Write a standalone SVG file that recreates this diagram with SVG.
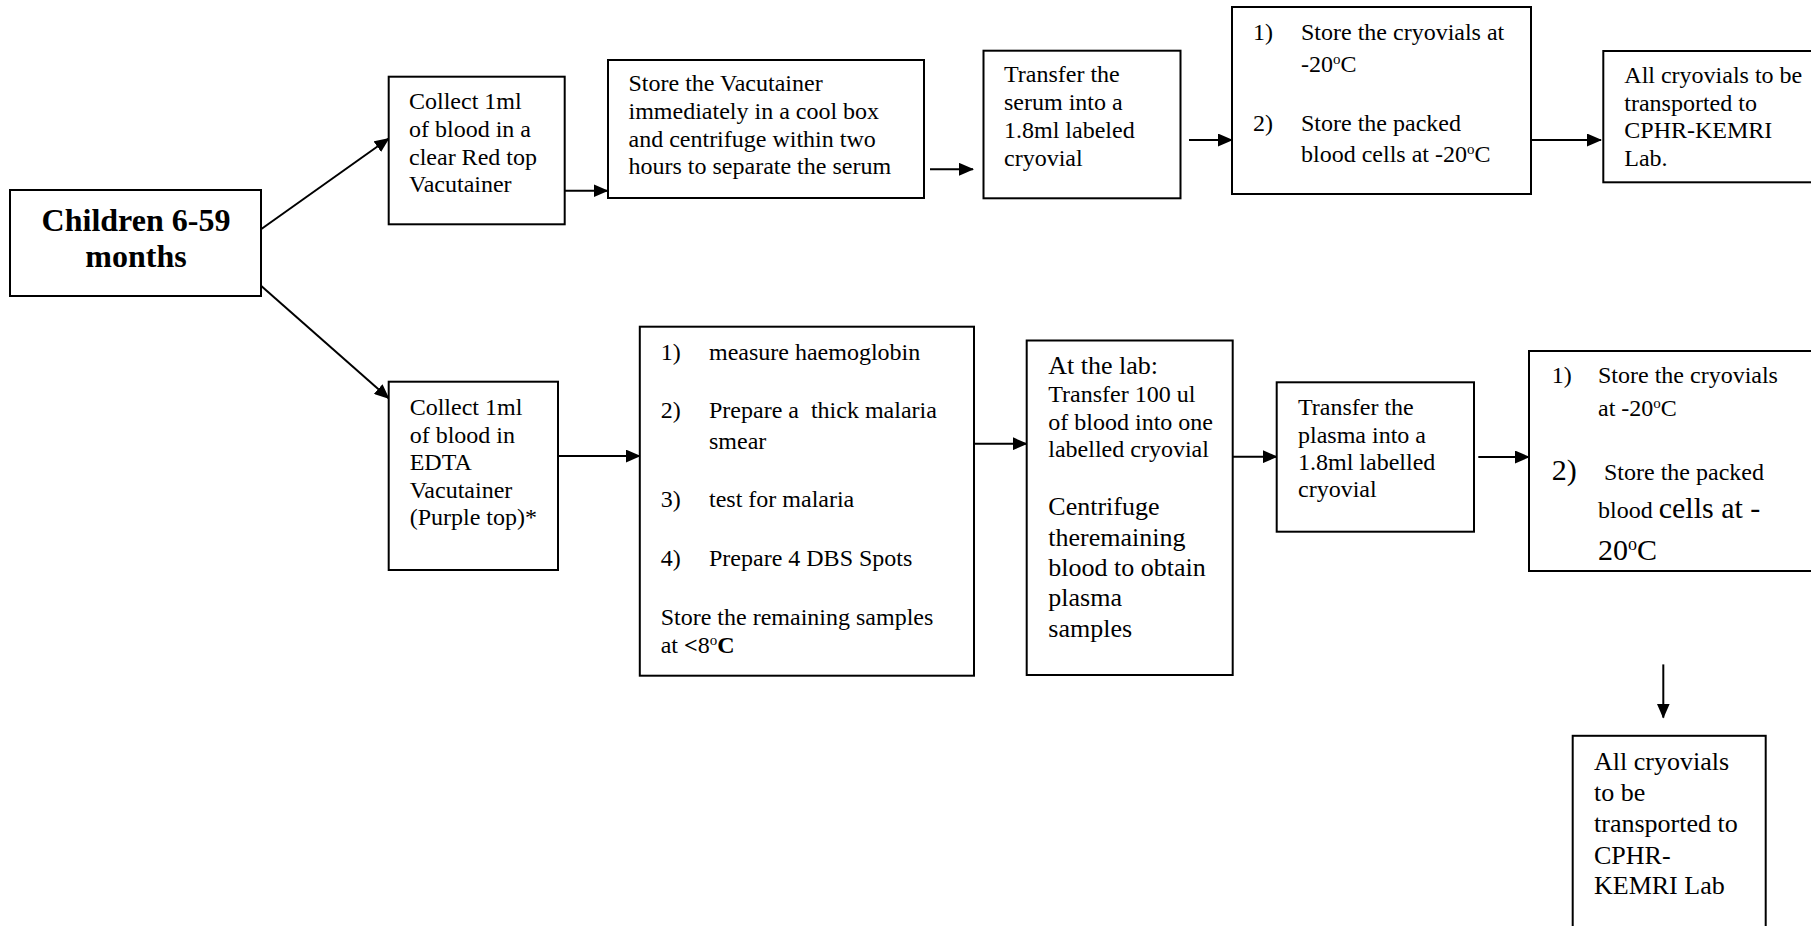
<svg xmlns="http://www.w3.org/2000/svg" width="1811" height="926" viewBox="0 0 1811 926">
<style>
.box{fill:#fff;stroke:#000;stroke-width:2}
text{font-family:"Liberation Serif","Times New Roman",serif;font-size:24px;fill:#000}
.title{font-size:32px;font-weight:bold}
.big{font-size:30px}
.m26{font-size:26px}
.sup{font-size:15px}
.sup2{font-size:18px}
.conn line{stroke:#000;stroke-width:2}
</style>
<defs>
<marker id="ah" markerUnits="userSpaceOnUse" markerWidth="16" markerHeight="13" refX="14" refY="6.5" orient="auto">
<path d="M0,0 L15,6.5 L0,13 Z" fill="#000"/>
</marker>
</defs>
<rect width="1811" height="926" fill="#fff"/>

<g class="conn">
<line x1="261" y1="229.3" x2="388.7" y2="138.5" marker-end="url(#ah)"/>
<line x1="261" y1="285.7" x2="388.7" y2="398.3" marker-end="url(#ah)"/>
<line x1="564.6" y1="190.7" x2="607.5" y2="190.7" marker-end="url(#ah)"/>
<line x1="930" y1="169.3" x2="973" y2="169.3" marker-end="url(#ah)"/>
<line x1="1189" y1="140" x2="1232" y2="140" marker-end="url(#ah)"/>
<line x1="1531" y1="140" x2="1601" y2="140" marker-end="url(#ah)"/>
<line x1="558" y1="456" x2="639.8" y2="456" marker-end="url(#ah)"/>
<line x1="974" y1="443.7" x2="1026.7" y2="443.7" marker-end="url(#ah)"/>
<line x1="1232.7" y1="456.7" x2="1276.7" y2="456.7" marker-end="url(#ah)"/>
<line x1="1478.3" y1="457" x2="1529" y2="457" marker-end="url(#ah)"/>
<line x1="1663.3" y1="664.4" x2="1663.3" y2="717.6" marker-end="url(#ah)"/>
</g>

<g id="children">
<rect class="box" x="10" y="190" width="251" height="106"/>
<text class="title" x="136" y="231" text-anchor="middle">Children 6-59</text>
<text class="title" x="136" y="267" text-anchor="middle">months</text>
</g>

<g id="collect1">
<rect class="box" x="388.7" y="76.7" width="176" height="147.6"/>
<text x="409" y="109.3">Collect 1ml</text>
<text x="409" y="137">of blood in a</text>
<text x="409" y="164.5">clear Red top</text>
<text x="409" y="192">Vacutainer</text>
</g>

<g id="storevac">
<rect class="box" x="608" y="60" width="316" height="138"/>
<text x="628.5" y="91">Store the Vacutainer</text>
<text x="628.5" y="119">immediately in a cool box</text>
<text x="628.5" y="146.7">and centrifuge within two</text>
<text x="628.5" y="174">hours to separate the serum</text>
</g>

<g id="transferserum">
<rect class="box" x="983.5" y="50.7" width="197" height="147.6"/>
<text x="1004" y="82.3">Transfer the</text>
<text x="1004" y="110">serum into a</text>
<text x="1004" y="137.7">1.8ml labeled</text>
<text x="1004" y="165.7">cryovial</text>
</g>

<g id="storecryo1">
<rect class="box" x="1232" y="7" width="299" height="187"/>
<text x="1253" y="40">1)</text>
<text x="1301" y="40">Store the cryovials at</text>
<text x="1301" y="71.7">-20<tspan class="sup" baseline-shift="super">o</tspan>C</text>
<text x="1253" y="130.7">2)</text>
<text x="1301" y="130.7">Store the packed</text>
<text x="1301" y="161.7">blood cells at -20<tspan class="sup" baseline-shift="super">o</tspan>C</text>
</g>

<g id="alltop">
<rect class="box" x="1603.3" y="51" width="240" height="131.3"/>
<text x="1624.3" y="82.7">All cryovials to be</text>
<text x="1624.3" y="110.7">transported to</text>
<text x="1624.3" y="137.7">CPHR-KEMRI</text>
<text x="1624.3" y="165.7">Lab.</text>
</g>

<g id="collect2">
<rect class="box" x="388.7" y="381.7" width="169.3" height="188.3"/>
<text x="409.7" y="415">Collect 1ml</text>
<text x="409.7" y="442.5">of blood in</text>
<text x="409.7" y="470">EDTA</text>
<text x="409.7" y="497.5">Vacutainer</text>
<text x="409.7" y="525">(Purple top)*</text>
</g>

<g id="haemo">
<rect class="box" x="639.8" y="326.7" width="334.2" height="349"/>
<text x="660.7" y="360">1)</text>
<text x="709" y="360">measure haemoglobin</text>
<text x="660.7" y="417.7">2)</text>
<text x="709" y="417.7" xml:space="preserve">Prepare a  thick malaria</text>
<text x="709" y="449.3">smear</text>
<text x="660.7" y="507.3">3)</text>
<text x="709" y="507.3">test for malaria</text>
<text x="660.7" y="566">4)</text>
<text x="709" y="566">Prepare 4 DBS Spots</text>
<text x="660.7" y="625">Store the remaining samples</text>
<text x="660.7" y="652.7">at <tspan font-weight="bold">&lt;</tspan>8<tspan class="sup" baseline-shift="super">o</tspan><tspan font-weight="bold">C</tspan></text>
</g>

<g id="atlab">
<rect class="box" x="1026.7" y="340.5" width="206" height="334.5"/>
<text class="m26" x="1048.3" y="374">At the lab:</text>
<text x="1048.3" y="401.7">Transfer 100 ul</text>
<text x="1048.3" y="430">of blood into one</text>
<text x="1048.3" y="456.7">labelled cryovial</text>
<text class="m26" x="1048.3" y="515">Centrifuge</text>
<text class="m26" x="1048.3" y="546">theremaining</text>
<text class="m26" x="1048.3" y="576">blood to obtain</text>
<text class="m26" x="1048.3" y="606">plasma</text>
<text class="m26" x="1048.3" y="636.7">samples</text>
</g>

<g id="transferplasma">
<rect class="box" x="1276.7" y="382.3" width="197.3" height="149.4"/>
<text x="1298" y="415">Transfer the</text>
<text x="1298" y="443.3">plasma into a</text>
<text x="1298" y="470">1.8ml labelled</text>
<text x="1298" y="496.7">cryovial</text>
</g>

<g id="storecryo2">
<rect class="box" x="1529" y="351" width="300" height="220"/>
<text x="1551.7" y="383">1)</text>
<text x="1598" y="383">Store the cryovials</text>
<text x="1598" y="415.5">at -20<tspan class="sup" baseline-shift="super">o</tspan>C</text>
<text class="big" x="1551.7" y="480">2)</text>
<text x="1604" y="480">Store the packed</text>
<text x="1598" y="518">blood <tspan class="big">cells at -</tspan></text>
<text class="big" x="1598" y="560">20<tspan class="sup2" baseline-shift="super">o</tspan>C</text>
</g>

<g id="allbottom">
<rect class="box" x="1572.7" y="735.8" width="193" height="230"/>
<text class="m26" x="1594" y="770">All cryovials</text>
<text class="m26" x="1594" y="801">to be</text>
<text class="m26" x="1594" y="832">transported to</text>
<text class="m26" x="1594" y="864">CPHR-</text>
<text class="m26" x="1594" y="894">KEMRI Lab</text>
</g>
</svg>
